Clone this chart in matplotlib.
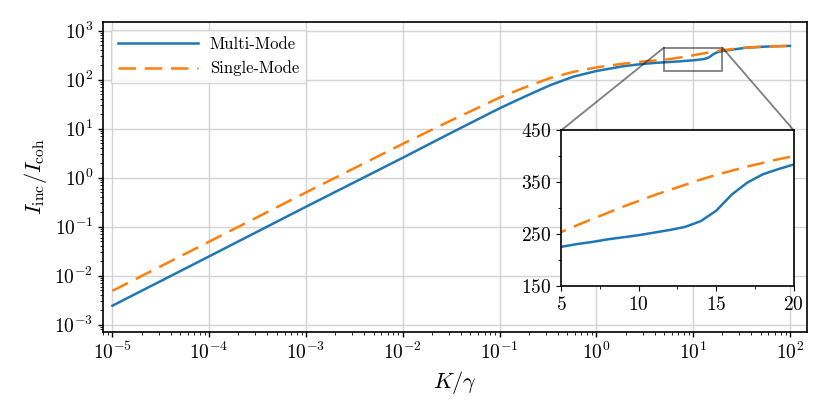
import matplotlib
matplotlib.use("Agg")
import matplotlib.pyplot as plt
from matplotlib.patches import ConnectionPatch
from matplotlib.ticker import MultipleLocator

plt.rcParams["font.family"] = "serif"
plt.rcParams["font.serif"] = ["cmr10", "DejaVu Serif"]
plt.rcParams["mathtext.fontset"] = "cm"
plt.rcParams["axes.formatter.use_mathtext"] = True
plt.rcParams["axes.unicode_minus"] = False

# values
k_multi = [1e-5, 1e-4, 1e-3, 1e-2, 3e-2, 0.1, 0.177, 0.333, 0.578, 1.0, 1.9, 3.06, 4.0,
           5, 6, 7, 8, 9, 10, 11, 12, 13, 14, 15, 16, 17, 18, 19, 20, 35.8, 60, 100]
i_multi = [2.44e-3, 2.48e-2, 0.255, 2.55, 7.8, 26, 44, 77, 115, 150, 188, 210, 219,
           225.6, 230.8, 235, 240, 244, 248, 253, 258, 264, 275, 295, 326, 349, 365, 375, 384,
           450, 475, 488]

k_single = [1e-5, 1e-4, 1e-3, 1e-2, 3e-2, 0.1, 0.177, 0.333, 0.578, 1.0, 1.9, 3.06, 4.0,
            5, 6, 7, 8, 9, 10, 11, 12, 13, 14, 15, 16, 17, 18, 19, 20, 35.8, 60, 100]
i_single = [4.9e-3, 4.95e-2, 0.5, 4.9, 14, 43, 68, 108, 144, 178, 212, 235, 245,
            254, 267, 279, 291, 303, 314, 325, 335, 345, 355, 364, 372, 380, 387, 394, 400,
            452, 476, 488]

inset_xlim = (5, 20)
inset_ylim = (150, 450)
inset_yticks = [150, 250, 350, 450]
inset_xticks = [5, 10, 15, 20]

BLUE = "#1f77b4"
ORANGE = "#ff7f0e"
DASH = (0, (7, 3.5))

fig = plt.figure(figsize=(8.3, 4.15), dpi=100)
ax = fig.add_axes([0.1241, 0.2, 0.8482, 0.747])

line_kw = dict(lw=1.8)
ax.plot(k_multi, i_multi, color=BLUE, label="Multi-Mode", **line_kw)
ax.plot(k_single, i_single, color=ORANGE, ls=DASH, label="Single-Mode", **line_kw)
ax.set_xscale("log")
ax.set_yscale("log")
ax.set_xlim(8e-6, 150)
ax.set_ylim(7.1e-4, 1.5e3)
ax.grid(True, which="major", color="#d4d4d4", lw=1.0)
ax.set_xlabel(r"$K/\gamma$", fontsize=16)
ax.set_ylabel(r"$I_{\rm inc}/I_{\rm coh}$", fontsize=16)
ax.tick_params(labelsize=14, width=1.0)
for s in ax.spines.values():
    s.set_linewidth(1.2)
ax.legend(loc="upper left", fontsize=12, handlelength=4.8, handletextpad=0.7,
          fancybox=False, edgecolor="#cccccc")

axins = ax.inset_axes([0.651, 0.148, 0.33, 0.503])
axins.plot(k_multi, i_multi, color=BLUE, **line_kw)
axins.plot(k_single, i_single, color=ORANGE, ls=DASH, **line_kw)
axins.set_xlim(*inset_xlim)
axins.set_ylim(*inset_ylim)
axins.set_xticks(inset_xticks)
axins.set_yticks(inset_yticks)
axins.xaxis.set_minor_locator(MultipleLocator(2.5))
axins.yaxis.set_minor_locator(MultipleLocator(50))
axins.tick_params(labelsize=14)
for s in axins.spines.values():
    s.set_linewidth(1.2)

# zoom box and the two connectors from its top corners to the inset's top corners
box_kw = dict(edgecolor="black", alpha=0.5, lw=1.3)
ax.indicate_inset([inset_xlim[0], inset_ylim[0], inset_xlim[1] - inset_xlim[0],
                   inset_ylim[1] - inset_ylim[0]], **box_kw)
for xc, fx in ((inset_xlim[0], 0), (inset_xlim[1], 1)):
    con = ConnectionPatch(xyA=(xc, inset_ylim[1]), coordsA=ax.transData,
                          xyB=(fx, 1), coordsB=axins.transAxes,
                          color="black", alpha=0.5, lw=1.3)
    fig.add_artist(con)

fig.savefig("out.png", dpi=100)
